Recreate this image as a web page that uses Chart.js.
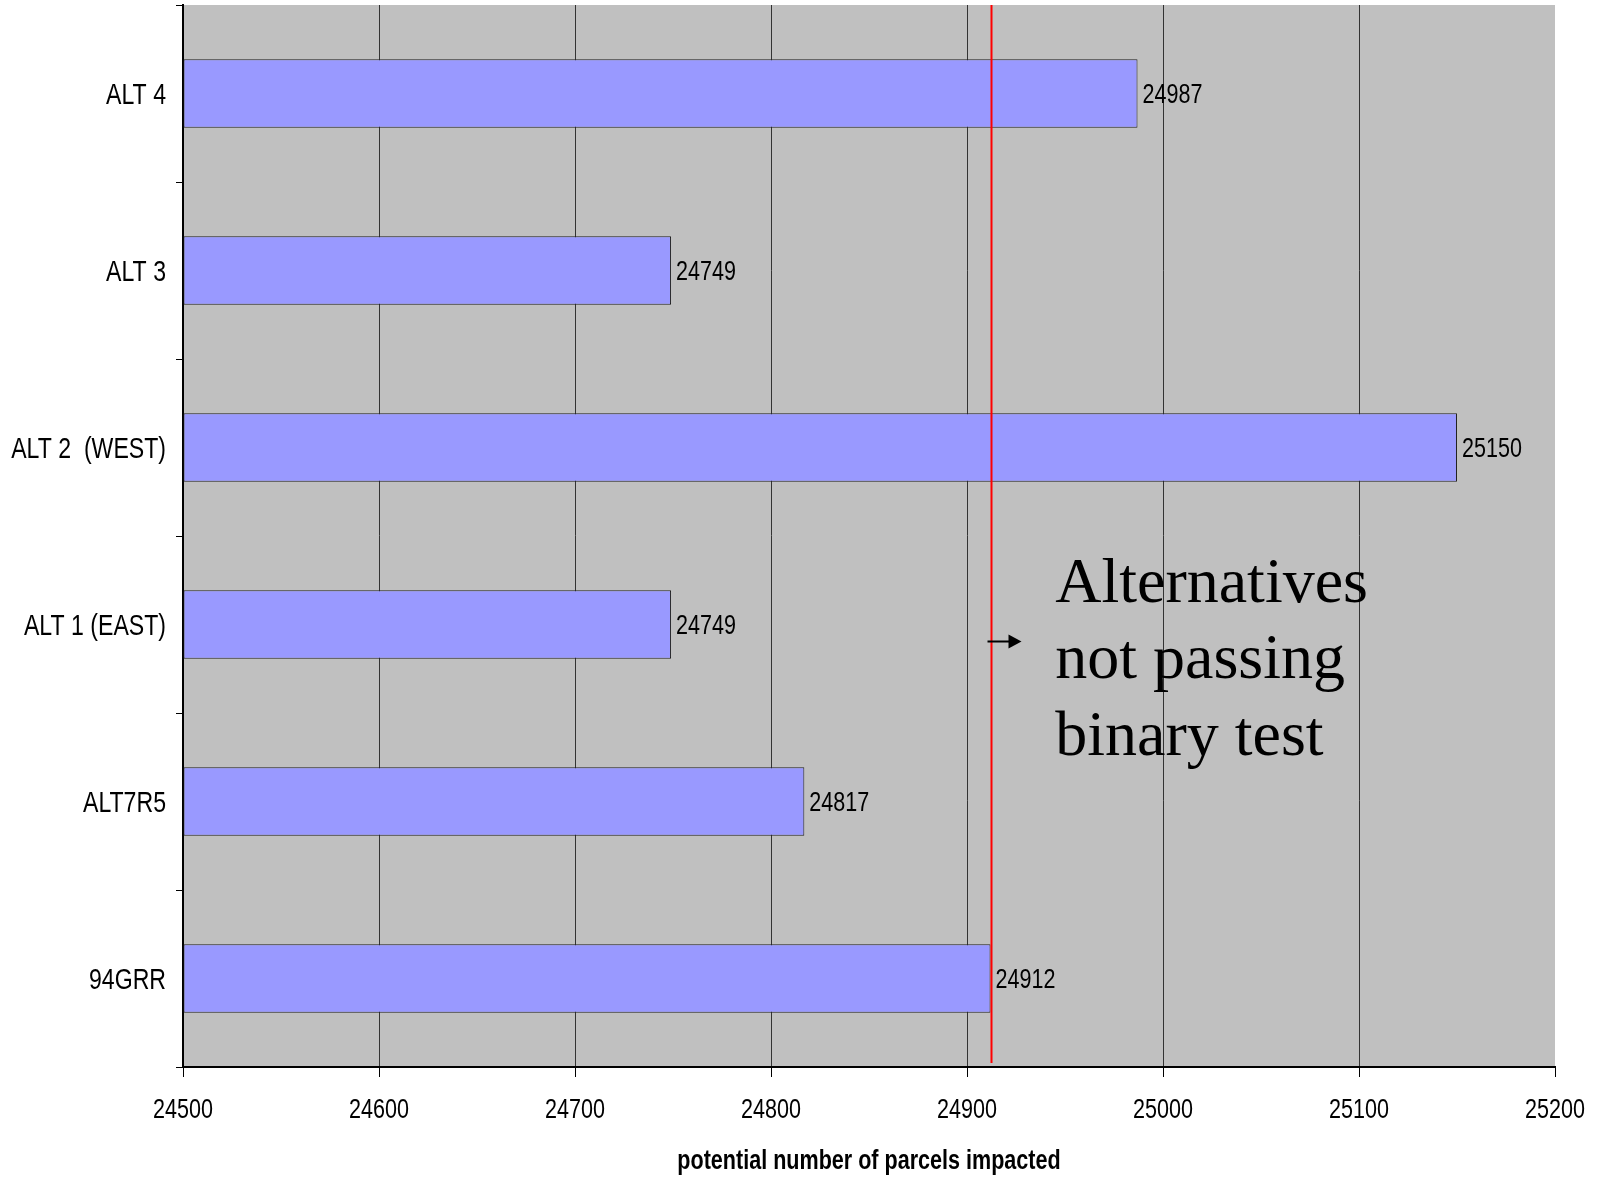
<!DOCTYPE html>
<html>
<head>
<meta charset="utf-8">
<script src="https://cdn.jsdelivr.net/npm/chart.js@4.4.0/dist/chart.umd.min.js"></script>
<style>
  html, body { margin: 0; padding: 0; background: #fff; }
  #wrap { width: 1598px; height: 1178px; }
</style>
</head>
<body>
<div id="wrap"><canvas id="parcelChart" width="1598" height="1178"></canvas></div>
<script>
// data
const categories = ["ALT 4", "ALT 3", "ALT 2  (WEST)", "ALT 1 (EAST)", "ALT7R5", "94GRR"];
const parcels = [24987, 24749, 25150, 24749, 24817, 24912];
const xMin = 24500;
const xMax = 25200;
const xStep = 100;
const thresholdValue = 24912;
const noteLines = ["Alternatives", "not passing", "binary test"];
const axisTitle = "potential number of parcels impacted";

const sans = '"Liberation Sans", Arial, sans-serif';
const serif = '"Liberation Serif", "Times New Roman", serif';
Chart.defaults.font.family = sans;
Chart.defaults.color = "#000";

const canvas = document.getElementById("parcelChart");
const ctx = canvas.getContext("2d");

// the original uses a squeezed sans font; squeeze sans text horizontally
const squeeze = 0.77;
const rawFillText = ctx.fillText.bind(ctx);
ctx.fillText = function(text, x, y, maxWidth) {
  if (ctx.font.indexOf("Serif") !== -1) {
    return rawFillText(text, x, y, maxWidth);
  }
  ctx.save();
  ctx.translate(x, y);
  ctx.scale(squeeze, 1);
  rawFillText(text, 0, 0);
  ctx.restore();
};

// gray plot background
const plotBackground = {
  id: "plotBackground",
  beforeDraw(chart) {
    const a = chart.chartArea;
    const c = chart.ctx;
    c.save();
    c.fillStyle = "#c0c0c0";
    c.fillRect(a.left, a.top, a.right - a.left, a.bottom - a.top);
    c.restore();
  }
};

// value labels, threshold line, arrow and note
const extras = {
  id: "extras",
  afterDatasetsDraw(chart) {
    const c = chart.ctx;
    const a = chart.chartArea;
    const xs = chart.scales.x;
    const ys = chart.scales.y;
    const meta = chart.getDatasetMeta(0);

    c.save();
    c.font = "28px " + sans;
    c.fillStyle = "#000";
    c.textAlign = "left";
    c.textBaseline = "middle";
    meta.data.forEach((bar, i) => {
      c.fillText(String(parcels[i]), bar.x + 5, bar.y + 2);
    });

    // red threshold line
    const tx = Math.round(xs.getPixelForValue(thresholdValue)) + 0.5;
    c.strokeStyle = "#ff0000";
    c.lineWidth = 2;
    c.beginPath();
    c.moveTo(tx, a.top);
    c.lineTo(tx, a.bottom - 4);
    c.stroke();

    // small arrow
    const ay = ys.getPixelForValue(3) + 17;
    const ax2 = tx + 30;
    c.strokeStyle = "#000";
    c.lineWidth = 2;
    c.beginPath();
    c.moveTo(tx - 4, ay);
    c.lineTo(ax2 - 10, ay);
    c.stroke();
    c.fillStyle = "#000";
    c.beginPath();
    c.moveTo(ax2, ay);
    c.lineTo(ax2 - 13, ay - 7);
    c.lineTo(ax2 - 13, ay + 7);
    c.closePath();
    c.fill();

    // note text
    c.font = "64px " + serif;
    c.textBaseline = "alphabetic";
    const nx = xs.getPixelForValue(24945);
    const ny = ys.getPixelForValue(3) - 23;
    noteLines.forEach((line, i) => {
      c.fillText(line, nx, ny + i * 76.5);
    });
    c.restore();
  }
};

new Chart(ctx, {
  type: "bar",
  data: {
    labels: categories,
    datasets: [{
      data: parcels,
      base: xMin,
      backgroundColor: "#9999ff",
      borderColor: "#222222",
      borderWidth: 1,
      borderSkipped: false,
      barPercentage: 0.387,
      categoryPercentage: 1
    }]
  },
  options: {
    indexAxis: "y",
    responsive: false,
    animation: false,
    layout: { padding: { left: 0, right: 43, top: 5, bottom: 0 } },
    plugins: {
      legend: { display: false },
      tooltip: { enabled: false }
    },
    scales: {
      x: {
        type: "linear",
        min: xMin,
        max: xMax,
        afterFit(scale) {
          scale.height = 111;
          scale.paddingLeft = 0;
          scale.paddingRight = 0;
        },
        ticks: {
          stepSize: xStep,
          padding: 16,
          font: { size: 28 },
          color: "#000",
          callback: v => String(v)
        },
        grid: {
          color: c => (c.index === 0 || c.tick && c.tick.value === xMax) ? "rgba(0,0,0,0)" : "#333333",
          tickColor: "#000",
          tickLength: 10,
          lineWidth: 1
        },
        border: { color: "#000", width: 2 },
        title: {
          display: true,
          text: axisTitle,
          font: { size: 28, weight: "bold" },
          color: "#000",
          padding: { top: 0, bottom: 0 }
        }
      },
      y: {
        afterFit(scale) {
          scale.width = 183;
          scale.paddingTop = 0;
          scale.paddingBottom = 0;
        },
        offset: true,
        ticks: {
          padding: 10,
          labelOffset: 2,
          font: { size: 30 },
          color: "#000"
        },
        grid: {
          offset: true,
          drawOnChartArea: false,
          tickColor: "#000",
          tickLength: 7
        },
        border: { color: "#000", width: 2 }
      }
    }
  },
  plugins: [plotBackground, extras]
});
</script>
</body>
</html>
